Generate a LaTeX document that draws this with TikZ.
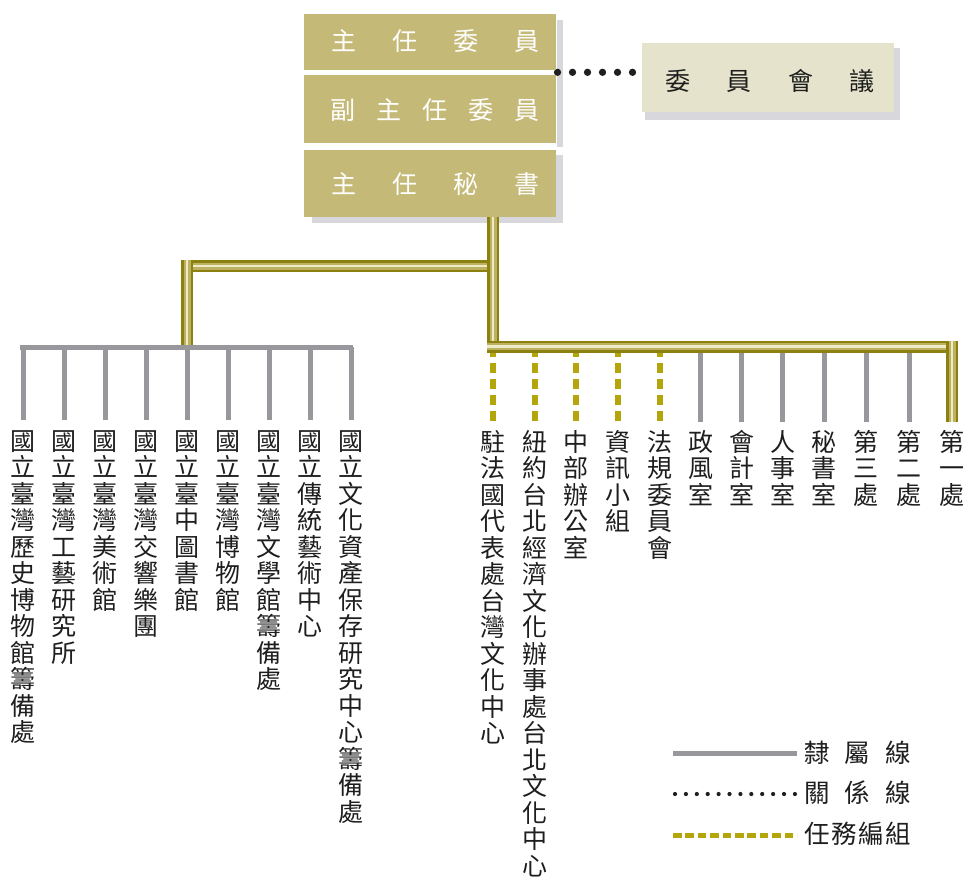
\documentclass[tikz,border=0pt]{standalone}
\usepackage{fontspec}
\setmainfont{Noto Sans CJK TC}
\usetikzlibrary{calc}
\definecolor{boxc}{HTML}{C4B977}
\definecolor{councilc}{HTML}{E6E3CC}
\definecolor{shadowc}{HTML}{D8D8DC}
\definecolor{grayc}{HTML}{98989C}
\definecolor{dashc}{HTML}{B4A50A}
\definecolor{pipeDark}{HTML}{8C8110}
\definecolor{pipeMid}{HTML}{BDB262}
\definecolor{pipeLight}{HTML}{EEEBC9}
\definecolor{txtc}{HTML}{1E1E1E}
\def\vtEnd{\vtEnd}
\def\vt#1{\vtA#1\vtEnd}
\def\vtA#1#2{#1\ifx#2\vtEnd\else\\\expandafter\vtA\expandafter#2\fi}
\begin{document}
\begin{tikzpicture}[x=1pt,y=-1pt,
  mainbox/.style={fill=boxc, draw=none, minimum width=252pt, inner sep=0pt},
  councilbox/.style={fill=councilc, draw=none, minimum width=252pt, minimum height=69pt, inner sep=0pt},
  boxtext/.style={text=white, font=\fontsize{25}{30}\selectfont, inner sep=0pt},
  ctext/.style={text=txtc, font=\fontsize{25}{30}\selectfont, inner sep=0pt},
  coltext/.style={anchor=north, align=center, inner sep=0pt, text=txtc, font=\fontsize{25}{26.5}\selectfont},
  legtext/.style={anchor=west, inner sep=0pt, text=txtc, font=\fontsize{25.5}{30}\selectfont},
  pipe/.style={line width=12pt, draw=pipeDark, postaction={draw=pipeMid, line width=7pt}, postaction={draw=pipeLight, line width=2.5pt}},
  grayline/.style={draw=grayc, line width=5pt},
  dashline/.style={draw=dashc, line width=6pt, dash pattern=on 10pt off 6pt},
  dotline/.style={draw=black!88, line width=7.3pt, line cap=round, dash pattern=on 0pt off 15pt},
  legdot/.style={draw=black!88, line width=4.2pt, line cap=round, dash pattern=on 0pt off 10.9pt},
  legdash/.style={draw=dashc, line width=5pt, dash pattern=on 8.5pt off 3.9pt},
  shadow/.style={fill=shadowc, draw=none}]
\useasboundingbox (0,0) rectangle (965,879);

% --- shadows ---
\coordinate (s12a) at (557,20);
\coordinate (s12b) at (563,147);
\fill[shadow] (s12a) rectangle (s12b);
\coordinate (s3a) at (312,155);
\coordinate (s3b) at (563,223);
\fill[shadow] (s3a) rectangle (s3b);
\coordinate (scA) at (645,48);
\coordinate (scB) at (900,120);
\fill[shadow] (scA) rectangle (scB);

% --- relation (dotted) line ---
\coordinate (dotL) at (557.5,72.3);
\coordinate (dotR) at (632.6,72.3);
\draw[dotline] (dotL) -- (dotR);

% --- top boxes ---
\node[mainbox, minimum height=56pt] (b1) at (430,42) {};
\node[mainbox, minimum height=68pt] (b2) at (430,109) {};
\node[mainbox, minimum height=67pt] (b3) at (430,183.5) {};
\node[councilbox] (cm) at (767.5,77.5) {};

\node[boxtext] (t1) at (435,41) {主\hspace{36pt}任\hspace{36pt}委\hspace{36pt}員};
\node[boxtext] (t2) at (435,110) {副\hspace{21pt}主\hspace{21pt}任\hspace{21pt}委\hspace{21pt}員};
\node[boxtext] (t3) at (435,184) {主\hspace{36pt}任\hspace{36pt}秘\hspace{36pt}書};
\node[ctext] (tc) at (770,81) {委\hspace{36.3pt}員\hspace{36.3pt}會\hspace{36.3pt}議};

% --- columns ---
\node[coltext] (L1) at (23,430) {\vt{國立臺灣歷史博物館籌備處}};
\node[coltext] (L2) at (64,430) {\vt{國立臺灣工藝研究所}};
\node[coltext] (L3) at (105,430) {\vt{國立臺灣美術館}};
\node[coltext] (L4) at (146,430) {\vt{國立臺灣交響樂團}};
\node[coltext] (L5) at (187,430) {\vt{國立臺中圖書館}};
\node[coltext] (L6) at (228,430) {\vt{國立臺灣博物館}};
\node[coltext] (L7) at (269,430) {\vt{國立臺灣文學館籌備處}};
\node[coltext] (L8) at (310,430) {\vt{國立傳統藝術中心}};
\node[coltext] (L9) at (351,430) {\vt{國立文化資產保存研究中心籌備處}};

\node[coltext] (R1) at (493,430) {\vt{駐法國代表處台灣文化中心}};
\node[coltext] (R2) at (534.5,430) {\vt{紐約台北經濟文化辦事處台北文化中心}};
\node[coltext] (R3) at (576,430) {\vt{中部辦公室}};
\node[coltext] (R4) at (617.5,430) {\vt{資訊小組}};
\node[coltext] (R5) at (659.5,430) {\vt{法規委員會}};
\node[coltext] (R6) at (700.5,430) {\vt{政風室}};
\node[coltext] (R7) at (741.5,430) {\vt{會計室}};
\node[coltext] (R8) at (782.5,430) {\vt{人事室}};
\node[coltext] (R9) at (824,430) {\vt{秘書室}};
\node[coltext] (R10) at (866,430) {\vt{第三處}};
\node[coltext] (R11) at (909,430) {\vt{第二處}};
\node[coltext] (R12) at (952,430) {\vt{第一處}};

% --- left gray bus and drops ---
\coordinate (lbusL) at (20,347);
\coordinate (lbusR) at (353,347);
\draw[grayline] (lbusL) -- (lbusR);
\foreach \n in {L1,L2,L3,L4,L5,L6,L7,L8,L9}
  \draw[grayline] (\n.north |- lbusL) -- ([yshift=10pt]\n.north);

% --- right drops ---
\coordinate (rdrop) at (0,347);
\foreach \n in {R1,R2,R3,R4,R5}
  \draw[dashline] (\n.north |- rdrop) -- ([yshift=9pt]\n.north);
\foreach \n in {R6,R7,R8,R9,R10,R11}
  \draw[grayline] (\n.north |- rdrop) -- ([yshift=8pt]\n.north);

% --- pipes ---
\coordinate (hL) at (181,266);
\coordinate (hR) at (499,266);
\draw[pipe] (hL) -- (hR);
\coordinate (vLt) at (187,260);
\coordinate (vLb) at (187,345);
\draw[pipe] (vLt) -- (vLb);
\coordinate (trB) at (493,352);
\draw[pipe] (b3.south -| R1.north) -- (trB);
\coordinate (rbL) at (487,346.5);
\coordinate (rbR) at (958,346.5);
\draw[pipe] (rbL) -- (rbR);
\coordinate (reT) at (952,340.5);
\draw[pipe] (reT) -- ([yshift=8pt]R12.north);

% --- legend ---
\node[legtext] (lgA) at (804,753) {隸\hspace{15pt}屬\hspace{15pt}線};
\node[legtext] (lgB) at (804,793) {關\hspace{15pt}係\hspace{15pt}線};
\node[legtext] (lgC) at (804,834) {任\hspace{1.5pt}務\hspace{1.5pt}編\hspace{1.5pt}組};
\coordinate (lg1) at (673,753);
\coordinate (lg2) at (675,794);
\coordinate (lg3) at (673,835);
\draw[grayline] (lg1) -- ([xshift=-7pt]lgA.west);
\draw[legdot] (lg2) -- ([xshift=-9pt]lgB.west |- lg2);
\draw[legdash] (lg3) -- ([xshift=-7pt]lgC.west |- lg3);
\end{tikzpicture}
\end{document}
